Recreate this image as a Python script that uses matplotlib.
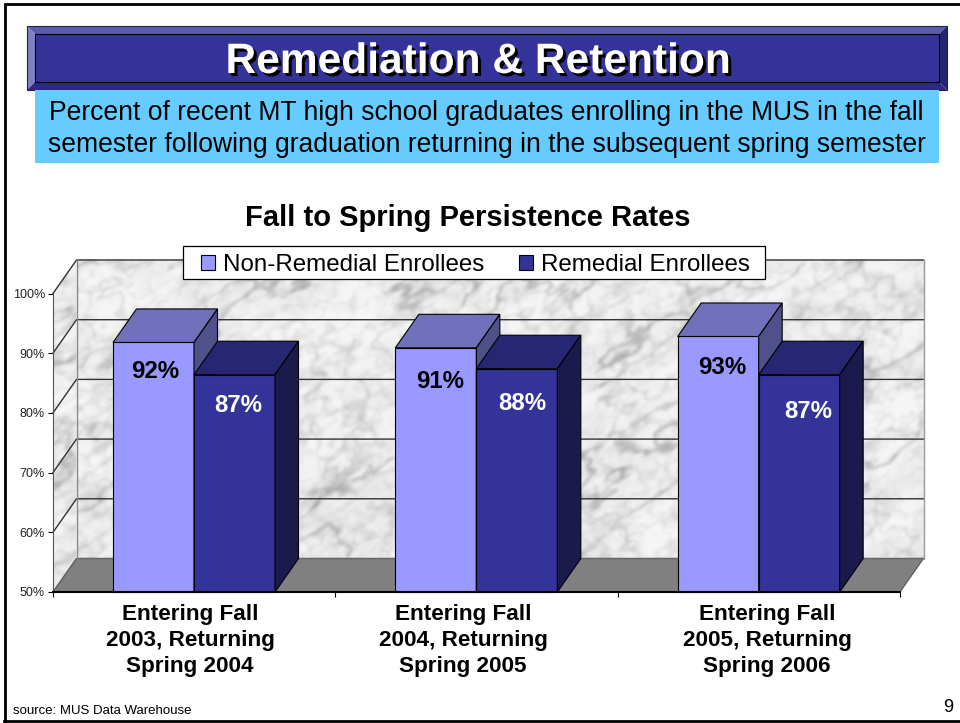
"""Remediation & Retention slide: fake-3D column chart on a marble wall."""

import matplotlib
matplotlib.use("Agg")
import matplotlib.pyplot as plt
import matplotlib.patheffects as pe
from matplotlib.patches import Polygon, Rectangle
import numpy as np

plt.rcParams["font.family"] = ["Liberation Sans", "DejaVu Sans"]

W, H = 960, 723

TITLE = "Remediation & Retention"
SUBTITLE = ["Percent of recent MT high school graduates enrolling in the MUS in the fall",
            "semester following graduation returning in the subsequent spring semester"]
CHART_TITLE = "Fall to Spring Persistence Rates"
SOURCE = "source: MUS Data Warehouse"
PAGE = "9"

categories = ["Entering Fall\n2003, Returning\nSpring 2004",
              "Entering Fall\n2004, Returning\nSpring 2005",
              "Entering Fall\n2005, Returning\nSpring 2006"]
series_names = ["Non-Remedial Enrollees", "Remedial Enrollees"]
non_remedial = [91.8, 90.9, 92.8]
remedial = [86.4, 87.4, 86.4]
non_remedial_labels = ["92%", "91%", "93%"]
remedial_labels = ["87%", "88%", "87%"]
y_ticks = [50, 60, 70, 80, 90, 100]

C_FRONT = ["#9999FF", "#333399"]
C_TOP = ["#7070BB", "#262673"]
C_SIDE = ["#50508A", "#1A1A4D"]

# depth of the fake 3D box, in data units
DX = 23.5 / (847 / 3)
DY = 33.5 / 298.5 * 50
BAR_W = 81 / (847 / 3)
BAR_START = 60 / (847 / 3)


def lattice(i, j, seed):
    v = np.sin(i * 127.1 + j * 311.7 + seed) * 43758.5453
    return v - np.floor(v)


def value_noise(u, v, seed):
    i, j = np.floor(u), np.floor(v)
    fu, fv = u - i, v - j
    fu = fu * fu * (3 - 2 * fu)
    fv = fv * fv * (3 - 2 * fv)
    a = lattice(i, j, seed) * (1 - fu) + lattice(i + 1, j, seed) * fu
    b = lattice(i, j + 1, seed) * (1 - fu) + lattice(i + 1, j + 1, seed) * fu
    return a * (1 - fv) + b * fv - 0.5


def fbm(u, v, seed, octaves=4):
    out = np.zeros_like(u)
    for k in range(octaves):
        out += value_noise(u * 2 ** k, v * 2 ** k, seed + k * 1.37) / 2 ** k
    return out


def blur(img, sigma):
    fy = np.fft.fftfreq(img.shape[0])[:, None]
    fx = np.fft.fftfreq(img.shape[1])[None, :]
    kernel = np.exp(-2 * (np.pi * sigma) ** 2 * (fx ** 2 + fy ** 2))
    return np.fft.ifft2(np.fft.fft2(img) * kernel).real


def marble(h, w, seed=1.0):
    """Cloudy grey marble with soft diagonal veins."""
    yy, xx = np.mgrid[0:h, 0:w].astype(float)
    u = (xx - 0.55 * yy) / 70
    v = (0.55 * xx + yy) / 30
    cloud = fbm(u * 0.8, v * 0.8, seed + 10, 3)
    mask = np.clip(0.6 + 1.8 * fbm(u * 0.7, v * 0.7, seed + 20, 2), 0, 1)
    veins = np.exp(-(fbm(u, v, seed, 4) / 0.07) ** 2)
    veins2 = np.exp(-(fbm(u * 1.8 + 3, v * 1.2, seed + 5, 3) / 0.07) ** 2)
    veins3 = np.exp(-(fbm(u * 3.1 + 7, v * 2.3, seed + 8, 3) / 0.08) ** 2)
    grain = fbm(u * 9, v * 4, seed + 30, 3)
    img = (0.94 + 0.05 * cloud - 0.20 * veins * mask - 0.09 * veins2 * (1 - 0.5 * mask)
           - 0.06 * veins3 + 0.04 * grain)
    return np.clip(blur(img, 1.3), 0.5, 0.96)


def pixel_axes(zorder):
    a = fig.add_axes([0, 0, 1, 1], zorder=zorder)
    a.set_xlim(0, W)
    a.set_ylim(H, 0)
    a.axis("off")
    a.patch.set_alpha(0)
    return a


fig = plt.figure(figsize=(W / 100, H / 100), dpi=100, facecolor="white")
bg = pixel_axes(0)
top = pixel_axes(5)

# slide frame
bg.plot([4.5, 4.5, 960], [720.5, 3.5, 3.5], color="black", lw=2.0, solid_joinstyle="miter")
bg.plot([4, 960], [720.5, 720.5], color="black", lw=2.0)

# banner
bg.add_patch(Polygon([(27, 26), (947, 26), (939, 34), (35, 34)], fc="#5B5BAD", ec="none"))
bg.add_patch(Polygon([(27, 26), (35, 34), (35, 82), (27, 90)], fc="#7F7FC2", ec="none"))
bg.add_patch(Polygon([(947, 26), (939, 34), (939, 82), (947, 90)], fc="#25256E", ec="none"))
bg.add_patch(Polygon([(27, 90), (35, 82), (939, 82), (947, 90)], fc="#2A2A80", ec="none"))
bg.add_patch(Rectangle((35, 34), 904, 48, fc="#333399", ec="black", lw=0.8))
bg.add_patch(Rectangle((27, 26), 920, 64, fc="none", ec="#222244", lw=0.8))
bg.add_patch(Rectangle((35, 90), 904, 73, fc="#66CCFF", ec="none"))

title = top.text(478, 62, TITLE, fontsize=30.6, fontweight="bold", color="white",
                 ha="center", va="center")
title.set_path_effects([pe.withSimplePatchShadow(offset=(2.2, -2.2), shadow_rgbFace="black",
                                                 alpha=1.0)])
top.text(486.5, 113.5, SUBTITLE[0], fontsize=19.1, ha="center", va="center")
top.text(487, 145.5, SUBTITLE[1], fontsize=19.1, ha="center", va="center")
top.text(467.5, 217.5, CHART_TITLE, fontsize=21, fontweight="bold", ha="center", va="center")

# chart axes: the front plane of the box
ax = fig.add_axes([53 / W, 1 - 592 / H, 847 / W, 298.5 / H], zorder=2)
ax.patch.set_alpha(0)
xb0, xb1, yb0, yb1 = DX, 3 + DX, 50 + DY, 100 + DY

back = ax.imshow(marble(297, 847), cmap="gray", vmin=0, vmax=1, aspect="auto",
                 extent=(xb0, xb1, yb0, yb1), interpolation="bilinear", zorder=1)
back.set_clip_on(False)

side_poly = Polygon([(0, 50), (DX, yb0), (DX, yb1), (0, 100)], transform=ax.transData,
                    fc="none", ec="none")
ax.add_patch(side_poly)
side_poly.set_clip_on(False)
side = ax.imshow(marble(340, 24, seed=4.0), cmap="gray", vmin=0, vmax=1,
                 aspect="auto", extent=(0, DX, 50, yb1), interpolation="bilinear", zorder=1)
side.set_clip_box(fig.bbox)
side.set_clip_path(side_poly)

ax.add_patch(Polygon([(0, 50), (3, 50), (xb1, yb0), (xb0, yb0)], fc="#808080", ec="#555555",
                     lw=0.8, zorder=1.5, clip_on=False))

# gridlines on both walls
for v in y_ticks:
    c = "#333333" if v != 50 else "#666666"
    ax.plot([0, DX, xb1], [v, v + DY, v + DY], color=c, lw=1.0, zorder=1.6, clip_on=False)
ax.plot([DX, DX], [yb0, yb1], color="#888888", lw=1.0, zorder=1.6, clip_on=False)
ax.plot([xb1, xb1], [yb0, yb1], color="#999999", lw=1.0, zorder=1.6, clip_on=False)

# columns
x_pos = np.arange(len(categories)) + BAR_START
handles = []
z = 3
for s, (values, x_left) in enumerate(zip([non_remedial, remedial], [x_pos, x_pos + BAR_W])):
    bars = None
    for i, (xl, v) in enumerate(zip(x_left, values)):
        order = z + i * 3 + s
        b = ax.bar(xl, v - 50, BAR_W, bottom=50, align="edge", color=C_FRONT[s], edgecolor="black",
                   linewidth=0.8, zorder=order, clip_on=False,
                   label=series_names[s] if i == 0 else None)
        if bars is None:
            bars = b
        xr = xl + BAR_W
        ax.add_patch(Polygon([(xl, v), (xr, v), (xr + DX, v + DY), (xl + DX, v + DY)],
                             fc=C_TOP[s], ec="black", lw=0.8, zorder=order, clip_on=False))
        ax.add_patch(Polygon([(xr, 50), (xr, v), (xr + DX, v + DY), (xr + DX, 50 + DY)],
                             fc=C_SIDE[s], ec="black", lw=0.8, zorder=order, clip_on=False))
    handles.append(bars)

ax.set_xlim(0, 3)
ax.set_ylim(50, 100)
ax.set_xticks(range(len(categories) + 1))
ax.set_xticklabels([])
ax.set_yticks(y_ticks)
ax.set_yticklabels([f"{v}%" for v in y_ticks], fontsize=9, color="#222222")
ax.tick_params(axis="y", length=3.6, width=0.8, pad=2.2)
ax.tick_params(axis="x", length=3.6, width=0.8)
ax.spines["top"].set_visible(False)
ax.spines["right"].set_visible(False)
ax.spines["left"].set_color("#555555")
ax.spines["left"].set_linewidth(0.8)
ax.spines["bottom"].set_linewidth(1.5)
ax.spines["bottom"].set_zorder(20)

# legend
top.add_patch(Rectangle((183, 246), 582, 33, fc="white", ec="black", lw=0.9))
top.legend(handles=handles, labels=series_names, ncol=2, frameon=False, fontsize=17.4,
           loc="center", bbox_to_anchor=(475.5, 265), bbox_transform=top.transData,
           handlelength=0.58, handleheight=0.58, handletextpad=0.3, columnspacing=1.47,
           borderpad=0, borderaxespad=0, labelspacing=0)

# value labels
for (x, y), t in zip([(155, 372), (440, 381), (722, 367)], non_remedial_labels):
    top.text(x, y, t, fontsize=17.3, fontweight="bold", color="black", ha="center", va="center")
for (x, y), t in zip([(238, 405), (522, 403), (808, 411)], remedial_labels):
    top.text(x, y, t, fontsize=17.3, fontweight="bold", color="white", ha="center", va="center")

# category labels
for x, t in zip([190, 463, 767], categories):
    top.text(x, 640.5, t, fontsize=16.2, fontweight="bold", ha="center", va="center",
             linespacing=1.33)

top.text(13, 711.5, SOURCE, fontsize=9.5, ha="left", va="center")
top.text(948, 707, PAGE, fontsize=13, ha="center", va="center")

fig.savefig("out.png", dpi=100)
